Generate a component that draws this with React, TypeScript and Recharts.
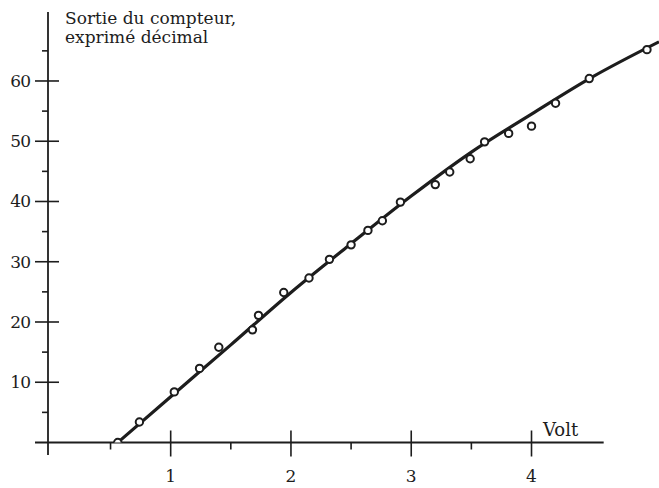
import React from "react";
import { ComposedChart, Line, Scatter, XAxis, YAxis, ReferenceLine } from "recharts";

// measured points (volt -> counter output)
const measuredVolts = [
  0.56, 0.74, 1.03, 1.24, 1.4, 1.68, 1.73, 1.94, 2.15, 2.32, 2.5, 2.64, 2.76, 2.91,
  3.2, 3.32, 3.49, 3.61, 3.81, 4.0, 4.2, 4.48, 4.96,
];
const measuredCounts = [
  0, 3.4, 8.4, 12.3, 15.8, 18.7, 21.1, 24.9, 27.3, 30.4, 32.8, 35.2, 36.8, 39.9,
  42.8, 44.9, 47.1, 49.9, 51.3, 52.5, 56.3, 60.4, 65.2,
];

// fitted curve
const curveVolts = [0.56, 1.0, 1.5, 2.0, 2.5, 3.0, 3.5, 4.0, 4.5, 5.06];
const curveCounts = [0, 7.6, 16.2, 24.9, 33.0, 40.9, 48.2, 54.5, 60.6, 66.5];

const majorX = [1, 2, 3, 4];
const minorX = [0.5, 1.5, 2.5, 3.5];
const majorY = [10, 20, 30, 40, 50, 60];
const minorY = [5, 15, 25, 35, 45, 55, 65];

const INK = "#1d1d1d";
const FONT = '"DejaVu Serif", serif';

const measured = measuredVolts.map((v, i) => ({ volt: v, count: measuredCounts[i] }));
const curve = curveVolts.map((v, i) => ({ volt: v, count: curveCounts[i] }));

const XTick = (props: any) => {
  const { x, y, payload } = props;
  const major = majorX.includes(payload.value);
  if (!major) {
    return <line x1={x} x2={x} y1={y} y2={y + 7} stroke={INK} strokeWidth={1.6} />;
  }
  return (
    <g>
      <line x1={x} x2={x} y1={y - 12} y2={y + 14} stroke={INK} strokeWidth={1.6} />
      <text x={x} y={y + 35} textAnchor="middle" dominantBaseline="middle" fontFamily={FONT} fontSize={17} fill={INK}>
        {payload.value}
      </text>
    </g>
  );
};

const YTick = (props: any) => {
  const { x, y, payload } = props;
  const major = majorY.includes(payload.value);
  if (!major) {
    return <line x1={x - 6} x2={x} y1={y} y2={y} stroke={INK} strokeWidth={1.6} />;
  }
  return (
    <g>
      <line x1={x - 13} x2={x + 11} y1={y} y2={y} stroke={INK} strokeWidth={1.6} />
      <text
        x={x - 18}
        y={y}
        textAnchor="end"
        dominantBaseline="central"
        fontFamily={FONT}
        fontSize={17}
        letterSpacing={-1}
        fill={INK}
      >
        {payload.value}
      </text>
    </g>
  );
};

const Dot = (props: any) => (
  <circle cx={props.cx} cy={props.cy} r={3.7} fill="#fff" stroke={INK} strokeWidth={2} />
);

export default function App() {
  return (
    <div style={{ position: "absolute", left: 0, top: 0, width: 659, height: 488, background: "#fff" }}>
      <ComposedChart width={659} height={488} margin={{ top: 0, right: 0, bottom: 15.5, left: 0 }}>
        <XAxis
          type="number"
          dataKey="volt"
          domain={[-0.02, 5.06]}
          allowDataOverflow
          ticks={[...minorX, ...majorX].sort((a, b) => a - b)}
          interval={0}
          axisLine={false}
          tickLine={false}
          tickSize={0}
          tickMargin={0}
          height={30}
          tick={<XTick />}
        />
        <YAxis
          type="number"
          dataKey="count"
          domain={[0, 73.44]}
          allowDataOverflow
          ticks={[...minorY, ...majorY].sort((a, b) => a - b)}
          interval={0}
          axisLine={false}
          tickLine={false}
          tickSize={0}
          tickMargin={0}
          width={48}
          tick={<YTick />}
        />
        <ReferenceLine
          segment={[{ x: -0.128, y: 0 }, { x: 4.6, y: 0 }]}
          stroke={INK}
          strokeWidth={1.8}
          ifOverflow="visible"
        />
        <ReferenceLine
          segment={[{ x: -0.02, y: -2.07 }, { x: -0.02, y: 71.45 }]}
          stroke={INK}
          strokeWidth={1.8}
          ifOverflow="visible"
        />
        <Line
          data={curve}
          dataKey="count"
          type="monotone"
          stroke={INK}
          strokeWidth={3.2}
          dot={false}
          activeDot={false}
          isAnimationActive={false}
        />
        <Scatter data={measured} dataKey="count" shape={<Dot />} isAnimationActive={false} />
      </ComposedChart>
      <div
        style={{
          position: "absolute",
          left: 65,
          top: 9,
          fontFamily: FONT,
          fontSize: 17,
          lineHeight: "19px",
          color: INK,
          whiteSpace: "nowrap",
        }}
      >
        Sortie du compteur,
        <br />
        exprimé décimal
      </div>
      <div
        style={{
          position: "absolute",
          left: 543,
          top: 419,
          fontFamily: FONT,
          fontSize: 18,
          lineHeight: "22px",
          color: INK,
        }}
      >
        Volt
      </div>
    </div>
  );
}
